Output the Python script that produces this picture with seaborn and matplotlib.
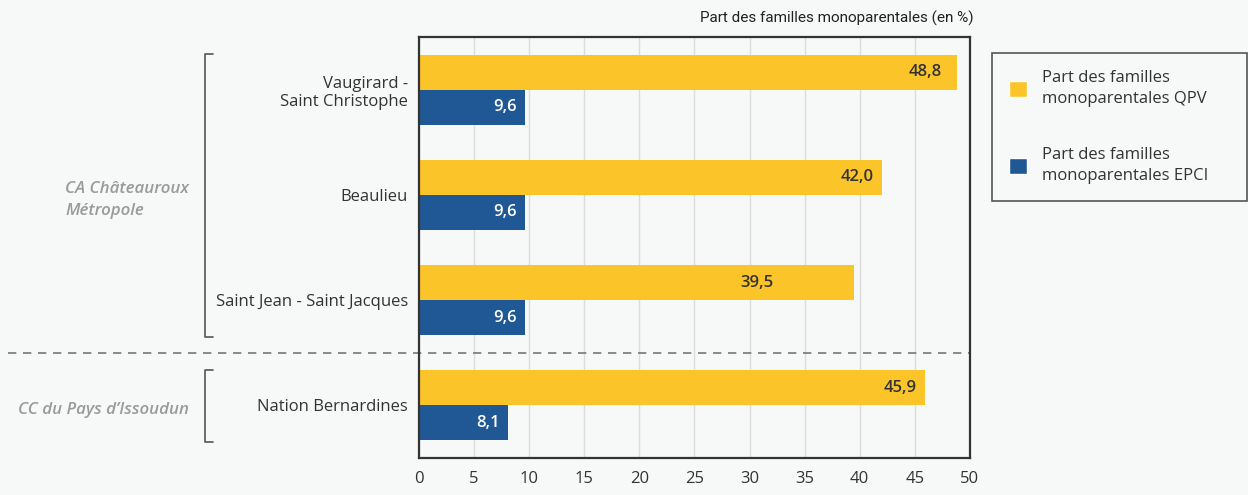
import pandas as pd
import matplotlib.pyplot as plt
import matplotlib.transforms as mtransforms
from matplotlib.patches import Patch
import seaborn as sns

# données
quartiers = ['Vaugirard -\nSaint Christophe', 'Beaulieu',
             'Saint Jean - Saint Jacques', 'Nation Bernardines']
part_qpv = [48.8, 42.0, 39.5, 45.9]
part_epci = [9.6, 9.6, 9.6, 8.1]
series = ['Part des familles\nmonoparentales QPV',
          'Part des familles\nmonoparentales EPCI']
groupes = ['CA Châteauroux\nMétropole', 'CC du Pays d\u2019Issoudun']
groupe_debut = [0, 3]
groupe_fin = [2, 3]
x_ticks = [0, 5, 10, 15, 20, 25, 30, 35, 40, 45, 50]

jaune = '#fbc52a'
bleu = '#1f5894'
fond = '#f7f8f8'

sns.set_style('white')
plt.rcParams['font.family'] = ['Open Sans', 'DejaVu Sans']
plt.rcParams['axes.unicode_minus'] = False

df = pd.DataFrame({
    'quartier': quartiers * 2,
    'valeur': part_qpv + part_epci,
    'serie': [series[0]] * len(quartiers) + [series[1]] * len(quartiers),
})

fig = plt.figure(figsize=(12.48, 4.95), dpi=100, facecolor=fond)
ax = fig.add_axes([0.3357, 0.0747, 0.4415, 0.8506])
ax.set_facecolor(fond)

sns.barplot(data=df, y='quartier', x='valeur', hue='serie', orient='h',
            order=quartiers, hue_order=series, palette=[jaune, bleu],
            width=0.667, legend=False, ax=ax, saturation=1, linewidth=0)

ax.set_xlim(0, 50)
ax.set_ylim(len(quartiers) - 0.5, -0.5)
ax.set_xticks(x_ticks)
ax.set_xlabel('')
ax.set_ylabel('')
ax.grid(axis='x', color='#dcdcdc', linewidth=1)
ax.set_axisbelow(True)
for s in ax.spines.values():
    s.set_color('#333333')
    s.set_linewidth(1.6)
    s.set_visible(True)

ax.tick_params(axis='x', length=5, width=1.2, color='#333333',
               labelsize=12, labelcolor='#333333', pad=4)
ax.tick_params(axis='y', which='major', length=0, labelsize=12,
               labelcolor='#333333', pad=8)
ax.set_yticks([i - 0.5 for i in range(len(quartiers) + 1)], minor=True)
ax.tick_params(axis='y', which='minor', length=7, width=1.2, color='#333333')

# étiquettes des valeurs
decalage = {(0, 0): -0.6, (0, 2): -6.6}
for k, cont in enumerate(ax.containers):
    couleur = '#333333' if k == 0 else 'white'
    for i, bar in enumerate(cont):
        v = bar.get_width()
        x = v - 0.75 + decalage.get((k, i), 0)
        y = bar.get_y() + bar.get_height() / 2
        ax.text(x, y, f'{v:.1f}'.replace('.', ','), ha='right', va='center',
                fontsize=12, fontweight='semibold', color=couleur)

# ligne de séparation entre les EPCI
blend = mtransforms.blended_transform_factory(ax.transAxes, ax.transData)
ax.plot([-0.746, 1.0], [2.5, 2.5], transform=blend, clip_on=False,
        color='#777777', linestyle=(0, (5, 4)), linewidth=1.2)

# accolades et noms des groupes
for nom, d, f in zip(groupes, groupe_debut, groupe_fin):
    y0, y1 = d - 0.34, f + 0.35
    ax.plot([-0.373, -0.388, -0.388, -0.373], [y0, y0, y1, y1],
            transform=blend, clip_on=False, color='#555555', linewidth=1.2)
    ax.text(-0.417, (y0 + y1) / 2 + 0.04, nom, transform=blend, ha='right',
            va='center', multialignment='left', fontsize=12.2,
            fontstyle='italic', fontweight='semibold', color='#9a9a9a',
            linespacing=1.5)

fig.text(0.78, 0.962, 'Part des familles monoparentales (en %)', ha='right',
         va='center', fontsize=11, family=['Roboto', 'DejaVu Sans'],
         color='#222222')

handles = [Patch(facecolor=jaune), Patch(facecolor=bleu)]
leg = fig.legend(handles, series, loc='upper left',
                 bbox_to_anchor=(0.795, 0.594, 0.204, 0.299), mode='expand',
                 frameon=True, fancybox=False, edgecolor='#555555',
                 facecolor=fond, framealpha=1, fontsize=12,
                 handlelength=1.1, handleheight=1.1, handletextpad=0.9,
                 labelspacing=2.4, borderpad=1.0, borderaxespad=0)
leg.get_frame().set_linewidth(1.2)
for t in leg.get_texts():
    t.set_color('#333333')
    t.set_linespacing(1.45)

plt.savefig('out.png', dpi=100, facecolor=fond)
plt.close()
